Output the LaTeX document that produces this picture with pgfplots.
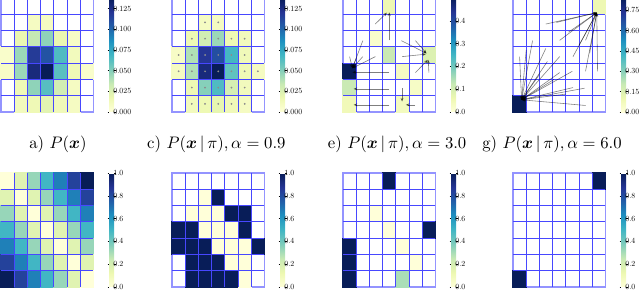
\documentclass[border=0pt]{standalone}
\usepackage{graphicx}
\usepackage{pgfplots}
\pgfplotsset{compat=1.18}
\usepackage{bm}
\usetikzlibrary{arrows.meta}

\newcommand{\cb}[1]{\scalebox{0.47}{#1}}
\pgfplotsset{
  colormap={ylgnbu}{rgb255=(255,255,217) rgb255=(237,248,177) rgb255=(199,233,180)
    rgb255=(127,205,187) rgb255=(65,182,196) rgb255=(29,145,192) rgb255=(34,94,168)
    rgb255=(37,52,148) rgb255=(8,29,88)},
  hm/.style={
    anchor=south west, scale only axis, width=55.5pt, height=68.4pt,
    xmin=-0.5, xmax=6.5, ymin=-0.5, ymax=6.5, y dir=reverse,
    xtick=\empty, ytick=\empty, clip mode=individual,
    axis line style={draw=blue!42, line width=1.1pt},
    colormap name=ylgnbu, colorbar, point meta min=0,
    unbounded coords=jump,
    colorbar style={
      at={(parent axis.north east)}, anchor=north west, xshift=0.9pt,
      scale only axis, width=3pt, height=68.4pt, y dir=normal,
      axis line style={draw=none}, xtick=\empty,
      tick align=outside, major tick length=0.9pt,
      tick style={black, line width=0.3pt},
      yticklabel style={font=\fontsize{10}{12}\selectfont, inner sep=0.2pt, xshift=-1.8pt},
    },
  },
  cell/.style={scatter, only marks, mark=square*, mark size=4.0pt,
    scatter/use mapped color={draw=mapped color, fill=mapped color},
    point meta=explicit, mark options={yscale=1.23, line width=0pt}},
  arr/.style={quiver={u=\thisrow{u}, v=\thisrow{v}},
    -{Stealth[length=2.2pt, width=1.8pt]}, black, opacity=0.5, line width=0.35pt},
  cbA/.style={colorbar style={ytick={0,0.025,0.05,0.075,0.1,0.125},
    yticklabels={\cb{0.000},\cb{0.025},\cb{0.050},\cb{0.075},\cb{0.100},\cb{0.125}}}},
  cbE/.style={colorbar style={ytick={0,0.1,0.2,0.3,0.4},
    yticklabels={\cb{0.0},\cb{0.1},\cb{0.2},\cb{0.3},\cb{0.4}}}},
  cbG/.style={colorbar style={ytick={0,0.15,0.3,0.45,0.6,0.75},
    yticklabels={\cb{0.00},\cb{0.15},\cb{0.30},\cb{0.45},\cb{0.60},\cb{0.75}}}},
  cbB/.style={colorbar style={ytick={0,0.2,0.4,0.6,0.8,1},
    yticklabels={\cb{0.0},\cb{0.2},\cb{0.4},\cb{0.6},\cb{0.8},\cb{1.0}}}},
}
\newcommand{\hmgrid}{\addplot[draw=blue!72, line width=0.55pt] coordinates {
  (0.5,-0.5) (0.5,6.5) (nan,nan) (1.5,-0.5) (1.5,6.5) (nan,nan)
  (2.5,-0.5) (2.5,6.5) (nan,nan) (3.5,-0.5) (3.5,6.5) (nan,nan)
  (4.5,-0.5) (4.5,6.5) (nan,nan) (5.5,-0.5) (5.5,6.5) (nan,nan)
  (-0.5,0.5) (6.5,0.5) (nan,nan) (-0.5,1.5) (6.5,1.5) (nan,nan)
  (-0.5,2.5) (6.5,2.5) (nan,nan) (-0.5,3.5) (6.5,3.5) (nan,nan)
  (-0.5,4.5) (6.5,4.5) (nan,nan) (-0.5,5.5) (6.5,5.5)};}

% ---- data: x = column, y = row (0 = top), c = value
\pgfplotstableread{
x y c
2 1 0.010
3 1 0.010
1 2 0.018
2 2 0.035
3 2 0.048
4 2 0.018
5 2 0.008
0 3 0.006
1 3 0.045
2 3 0.118
3 3 0.108
4 3 0.065
5 3 0.012
0 4 0.008
1 4 0.045
2 4 0.128
3 4 0.138
4 4 0.062
5 4 0.015
6 4 0.006
1 5 0.015
2 5 0.048
3 5 0.063
4 5 0.030
5 5 0.010
1 6 0.012
2 6 0.015
3 6 0.022
4 6 0.014
5 6 0.010
}\tabA
\pgfplotstableread{
x y c
2 1 0.010
3 1 0.010
1 2 0.016
2 2 0.030
3 2 0.045
4 2 0.016
5 2 0.012
0 3 0.008
1 3 0.040
2 3 0.120
3 3 0.110
4 3 0.068
5 3 0.014
0 4 0.010
1 4 0.040
2 4 0.128
3 4 0.138
4 4 0.060
5 4 0.015
6 4 0.010
1 5 0.016
2 5 0.050
3 5 0.065
4 5 0.028
5 5 0.012
1 6 0.012
2 6 0.016
3 6 0.020
4 6 0.014
5 6 0.010
}\tabC
\pgfplotstableread{
x y c
3 0 0.06
2 2 0.02
3 3 0.12
6 3 0.09
0 4 0.50
4 4 0.035
0 5 0.12
5 5 0.03
0 6 0.05
4 6 0.04
}\tabE
\pgfplotstableread{
x y u v
3.00 2.10 0 -1.72
1.94 1.10 0.88 -0.70
1.00 2.12 -0.79 1.69
0.00 3.10 0.21 0.71
0.50 3.20 -0.29 0.61
1.00 3.10 -0.79 0.71
1.95 3.10 -1.74 0.71
3.00 4.06 -2.79 0
3.00 5.08 -2.70 0
3.00 6.06 -2.70 0
3.92 2.12 1.90 0.78
4.98 2.12 0.84 0.78
3.97 3.10 1.80 -0.15
4.98 4.08 0.94 -0.78
6.00 4.08 -0.05 -0.78
3.97 5.04 0 0.82
4.95 6.06 -0.70 0
}\arrE
\pgfplotstableread{
x y c
6 0 0.10
0 6 0.84
}\tabG
\pgfplotstableread{
x y u v
0.00 3.10 0.15 2.65
0.50 2.70 -0.35 3.05
0.98 2.12 -0.83 3.63
1.98 2.60 -1.83 3.15
2.10 3.40 -1.95 2.35
3.03 3.10 -2.88 2.65
1.50 4.20 -1.35 1.55
3.03 4.08 -2.88 1.67
2.60 4.50 -2.45 1.25
3.99 4.00 -3.84 1.75
4.04 5.00 -3.89 0.75
4.91 5.04 -4.76 0.71
3.50 5.40 -3.35 0.35
4.99 6.10 -4.84 -0.35
1.98 1.10 3.86 -0.70
2.78 1.00 3.06 -0.60
3.03 2.10 2.81 -1.70
3.70 1.60 2.14 -1.20
4.04 3.10 1.80 -2.70
4.50 2.40 1.34 -2.00
4.99 2.10 0.85 -1.70
5.30 2.90 0.54 -2.50
4.99 4.00 0.85 -3.60
5.90 4.00 -0.06 -3.60
}\arrG
\pgfplotstableread{
x y c
0 0 0.000
1 0 0.167
2 0 0.333
3 0 0.500
4 0 0.667
5 0 0.833
6 0 1.000
0 1 0.167
1 1 0.000
2 1 0.167
3 1 0.333
4 1 0.500
5 1 0.667
6 1 0.833
0 2 0.333
1 2 0.167
2 2 0.000
3 2 0.167
4 2 0.333
5 2 0.500
6 2 0.667
0 3 0.500
1 3 0.333
2 3 0.167
3 3 0.000
4 3 0.167
5 3 0.333
6 3 0.500
0 4 0.667
1 4 0.500
2 4 0.333
3 4 0.167
4 4 0.000
5 4 0.167
6 4 0.333
0 5 0.833
1 5 0.667
2 5 0.500
3 5 0.333
4 5 0.167
5 5 0.000
6 5 0.167
0 6 1.000
1 6 0.833
2 6 0.667
3 6 0.500
4 6 0.333
5 6 0.167
6 6 0.000
}\tabB
\pgfplotstableread{
x y c
2 1 0
3 1 1
1 2 0
2 2 0
3 2 0
4 2 1
5 2 1
0 3 1
1 3 1
2 3 0
3 3 0
4 3 0
5 3 1
0 4 1
1 4 1
2 4 1
3 4 0
4 4 0
5 4 0
6 4 1
1 5 1
2 5 1
3 5 1
4 5 0
5 5 0
1 6 1
2 6 1
3 6 1
4 6 1
5 6 0
}\tabD
\pgfplotstableread{
x y c
3 0 1
2 2 0
3 3 0
6 3 1
0 4 1
4 4 0
0 5 1
5 5 0
0 6 1
4 6 0.3
}\tabF
\pgfplotstableread{
x y c
6 0 1
0 6 1
}\tabH

\begin{document}
\begin{tikzpicture}
\path[use as bounding box] (0,0) rectangle (384pt,174pt);

% ---------- top row
\begin{axis}[hm, at={(0.6pt,106.8pt)}, point meta max=0.138, cbA]
\addplot[cell] table[meta=c] {\tabA};
\hmgrid
\end{axis}

\begin{axis}[hm, at={(103.2pt,106.8pt)}, point meta max=0.138, cbA]
\addplot[cell] table[meta=c] {\tabC};
\hmgrid
\addplot[only marks, mark=*, mark size=0.3pt, black!45] table[x=x, y=y] {\tabC};
\end{axis}

\begin{axis}[hm, at={(205.8pt,106.8pt)}, point meta max=0.5, cbE]
\addplot[cell] table[meta=c] {\tabE};
\hmgrid
\addplot[arr] table {\arrE};
\end{axis}

\begin{axis}[hm, at={(307.8pt,106.8pt)}, point meta max=0.84, cbG]
\addplot[cell] table[meta=c] {\tabG};
\hmgrid
\addplot[arr] table {\arrG};
\end{axis}

% ---------- bottom row
\begin{axis}[hm, at={(0.6pt,1.8pt)}, point meta max=1, cbB]
\addplot[cell] table[meta=c] {\tabB};
\hmgrid
\end{axis}

\begin{axis}[hm, at={(103.2pt,1.8pt)}, point meta max=1, cbB]
\addplot[cell] table[meta=c] {\tabD};
\hmgrid
\end{axis}

\begin{axis}[hm, at={(205.8pt,1.8pt)}, point meta max=1, cbB]
\addplot[cell] table[meta=c] {\tabF};
\hmgrid
\end{axis}

\begin{axis}[hm, at={(307.8pt,1.8pt)}, point meta max=1, cbB]
\addplot[cell] table[meta=c] {\tabH};
\hmgrid
\end{axis}

% ---------- captions
\node[anchor=base west, font=\fontsize{10}{12}\selectfont, inner sep=0pt] at (17.4pt,84.6pt) {a) $P(\bm{x})$};
\node[anchor=base west, font=\fontsize{10}{12}\selectfont, inner sep=0pt] at (88.1pt,84.6pt) {c) $P(\bm{x}\,|\,\pi), \alpha = 0.9$};
\node[anchor=base west, font=\fontsize{10}{12}\selectfont, inner sep=0pt] at (196.6pt,84.6pt) {e) $P(\bm{x}\,|\,\pi), \alpha = 3.0$};
\node[anchor=base west, font=\fontsize{10}{12}\selectfont, inner sep=0pt] at (289.2pt,84.6pt) {g) $P(\bm{x}\,|\,\pi), \alpha = 6.0$};
\end{tikzpicture}
\end{document}
